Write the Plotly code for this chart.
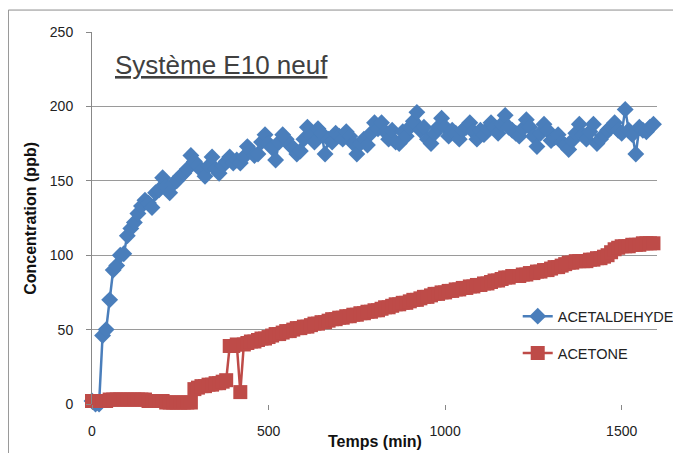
import plotly.graph_objects as go

# Sampling times (min)
time_min = list(range(0, 1600, 10))

acetaldehyde = [
    2, 0, 0, 46, 50, 70, 90, 93, 100, 101,
    113, 118, 122, 128, 133, 137, 135, 132, 142, 144,
    152, 146, 142, 148, 150, 153, 155, 158, 167, 163,
    160, 157, 153, 160, 166, 158, 155, 160, 163, 166,
    162, 164, 162, 166, 173, 170, 167, 168, 176, 181,
    175, 172, 164, 176, 181, 178, 174, 172, 168, 170,
    178, 186, 180, 176, 185, 182, 168, 178, 176, 182,
    180, 178, 183, 180, 175, 168, 175, 178, 174, 182,
    189, 185, 189, 183, 178, 184, 176, 175, 183, 180,
    186, 190, 196, 184, 186, 178, 175, 182, 186, 192,
    186, 180, 184, 182, 178, 184, 186, 189, 183, 178,
    184, 181, 185, 189, 186, 182, 188, 194, 186, 184,
    182, 180, 185, 191, 186, 180, 173, 182, 188, 184,
    177, 179, 181, 176, 174, 171, 177, 182, 188, 181,
    178, 183, 188, 175, 178, 181, 184, 186, 189, 184,
    182, 198, 184, 181, 168, 186, 184, 183, 186, 188,
]

acetone = [
    2, 2, 2, 2, 2, 3, 3, 3, 3, 3,
    3, 3, 3, 3, 3, 3, 2, 2, 2, 2,
    2, 1, 1, 1, 1, 1, 1, 1, 1, 10,
    11, 12, 12, 13, 13, 14, 14, 15, 16, 39,
    39, 40, 8, 40, 41, 42, 42, 43, 44, 44,
    45, 46, 47, 47, 48, 49, 49, 50, 51, 51,
    52, 52, 53, 54, 54, 55, 55, 56, 57, 57,
    58, 58, 59, 59, 60, 60, 61, 61, 62, 62,
    63, 63, 64, 65, 65, 66, 67, 67, 68, 68,
    69, 70, 70, 71, 72, 72, 73, 74, 74, 75,
    75, 76, 76, 77, 77, 78, 78, 79, 79, 80,
    80, 81, 81, 82, 83, 83, 84, 85, 85, 86,
    86, 86, 87, 87, 88, 88, 89, 89, 90, 90,
    91, 92, 92, 93, 94, 95, 95, 96, 96, 96,
    96, 97, 97, 98, 98, 99, 100, 102, 104, 105,
    106, 106, 106, 107, 107, 107, 108, 108, 108, 108,
]

x_ticks = [0, 500, 1000, 1500]
y_ticks = [0, 50, 100, 150, 200, 250]

FONT = "Liberation Sans"
BLUE = "#4A7EBB"
RED = "#BE4B48"

fig = go.Figure()
fig.add_trace(go.Scatter(
    x=time_min, y=acetaldehyde, name="ACETALDEHYDE", mode="lines+markers",
    line=dict(color=BLUE, width=2.5),
    marker=dict(symbol="diamond", size=13, color=BLUE),
    cliponaxis=False, legendgroup="a",
))
fig.add_trace(go.Scatter(
    x=time_min, y=acetone, name="ACETONE", mode="lines+markers",
    line=dict(color=RED, width=2.5),
    marker=dict(symbol="square", size=14, color=RED),
    cliponaxis=False, legendgroup="b",
))

fig.update_layout(
    width=681, height=453,
    margin=dict(l=84, r=32, t=24, b=57, autoexpand=False),
    paper_bgcolor="white", plot_bgcolor="white",
    font=dict(family=FONT, size=14, color="#222222"),
    showlegend=True,
    legend=dict(x=0.7535, y=0.279, xanchor="left", yanchor="top",
                bgcolor="rgba(0,0,0,0)", font=dict(size=14.5, color="#222222"),
                tracegroupgap=15),
    xaxis=dict(range=[0, 1600], tickvals=x_ticks, showgrid=False,
               zeroline=False, showline=False, ticks="outside", ticklen=5,
               tickcolor="#888888", ticklabelstandoff=9, automargin=False),
    yaxis=dict(range=[0, 250], tickvals=y_ticks, showgrid=True,
               gridcolor="#9a9a9a", gridwidth=1, zeroline=False,
               showline=True, linecolor="#888888", linewidth=1,
               ticks="outside", ticklen=5, tickcolor="#888888",
               ticklabelstandoff=10, automargin=False),
    shapes=[dict(type="rect", xref="paper", yref="paper",
                 x0=-0.148, x1=1.2, y0=-0.3, y1=1.059,
                 line=dict(color="#8c8c8c", width=1), fillcolor="rgba(0,0,0,0)",
                 layer="below")],
    annotations=[
        dict(text="<u>Système E10 neuf</u>", xref="paper", yref="paper",
             x=0.037, y=0.912, xanchor="left", yanchor="middle", showarrow=False,
             font=dict(family=FONT, size=26, color="#404040")),
        dict(text="<b>Temps (min)</b>", xref="paper", yref="paper",
             x=0.501, y=-0.0995, xanchor="center", yanchor="middle", showarrow=False,
             font=dict(family=FONT, size=16, color="#111111")),
        dict(text="<b>Concentration (ppb)</b>", xref="paper", yref="paper",
             x=-0.11, y=0.5, xanchor="center", yanchor="middle", showarrow=False,
             textangle=-90, font=dict(family=FONT, size=16, color="#111111")),
    ],
)

fig.write_html("out.html")
